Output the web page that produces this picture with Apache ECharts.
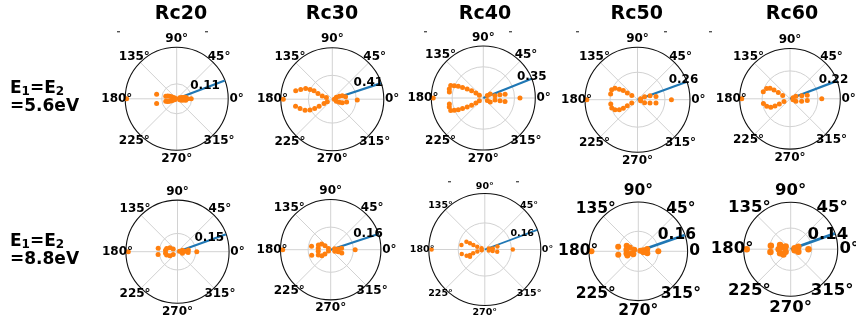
<!DOCTYPE html>
<html><head><meta charset="utf-8">
<script src="https://cdn.jsdelivr.net/npm/echarts@6/dist/echarts.min.js"></script>
<style>html,body{margin:0;padding:0;background:#fff}#c{width:856px;height:325px}</style>
</head><body><div id="c"></div>
<script>
// Column titles and row captions (energy values)
const titles = ['Rc20', 'Rc30', 'Rc40', 'Rc50', 'Rc60'];
const rowEnergy = ['5.6eV', '8.8eV'];

// Angular ticks
const angleTicks = [0, 45, 90, 135, 180, 225, 270, 315];
const angleTickLabels = ['0°', '45°', '90°', '135°', '180°', '225°', '270°', '315°'];

// Per panel: outer radius value, inner grid ring value, direction of the blue vector (deg)
const rMax = [0.11, 0.41, 0.35, 0.26, 0.22, 0.15, 0.16, 0.16, 0.16, 0.14];
const ringValue = [0.032, 0.19, 0.21, 0.136, 0.122, 0.053, 0.072, 0.076, 0.065, 0.063];
const vecAngle = [20.8, 18.2, 21.7, 19.9, 20.9, 19.7, 18.3, 20.5, 19.2, 19.6];

// Scatter points [radius, angle(deg)] for E=5.6eV
const e56_rc20 = [[0.107,180],[0.044,167],[0.044,193],[0.031,0],
  [0.024,167],[0.020,163],[0.016,160],[0.0115,158],[0.007,157],[0.0035,158],
  [0.024,193],[0.020,197],[0.016,200],[0.0115,202],[0.007,203],[0.0035,202],
  [0.0068,18],[0.011,16],[0.015,10],[0.0195,9],[0.0068,342],[0.011,344],[0.015,350],[0.0195,351],[0.0235,0]];
const e56_rc30 = [[0.39,180],
  [0.299,167],[0.263,163],[0.229,158],[0.193,156.5],[0.160,155.5],[0.123,158],[0.084,162],[0.049,164],
  [0.298,191],[0.267,196],[0.234,202],[0.198,206],[0.159,208],[0.119,208],[0.074,207],[0.045,208],
  [0.107,10],[0.116,349],[0.199,358],[0.036,27],[0.061,23],[0.084,19],[0.036,333],[0.061,337],[0.084,341],[0.016,0]];
const e56_rc40 = [[0.337,180],
  [0.237,165],[0.235,159],[0.212,157],[0.186,155],[0.157,153],[0.124,151],[0.093,148],[0.060,146],[0.032,146],[0.232,170],
  [0.237,195],[0.235,201],[0.212,203],[0.186,205],[0.157,207],[0.124,209],[0.093,212],[0.060,214],[0.032,214],[0.232,190],
  [0.149,10],[0.148,351],[0.247,0],[0.114,11],[0.114,351],[0.080,11],[0.080,350],[0.032,32],[0.032,328],[0.054,30],[0.054,330]];
const e56_rc50 = [[0.251,180],
  [0.137,159],[0.125,153],[0.104,150],[0.084,147],[0.060,147],[0.035,144],[0.136,168],
  [0.134,198],[0.122,204],[0.103,209],[0.082,211],[0.059,211],[0.033,210],[0.134,189],
  [0.093,10],[0.093,350],[0.168,0],[0.065,17],[0.064,345],[0.038,23],[0.038,337],[0.016,18],[0.016,342]];
const e56_rc60 = [[0.211,180],
  [0.121,165],[0.112,156],[0.099,152],[0.080,151],[0.058,152],[0.035,156],
  [0.118,190],[0.107,198],[0.092,204],[0.073,206],[0.052,206],[0.029,205],
  [0.077,12],[0.076,354],[0.139,0],[0.053,14],[0.052,348],[0.028,23],[0.028,337],[0.014,18],[0.014,342]];

// Scatter points [radius, angle(deg)] for E=8.8eV
const e88_rc20 = [[0.143,180],[0.057,170],[0.057,188],
  [0.033,163],[0.025,152],[0.015,147],[0.033,197],[0.025,208],[0.015,213],[0.035,173],[0.035,187],
  [0.032,9],[0.031,356],[0.056,0],[0.015,17],[0.015,343],[0.022,4],[0.006,14]];
const e88_rc30 = [[0.153,180],[0.062,170],[0.063,196],
  [0.042,159],[0.034,148],[0.022,145],[0.008,150],[0.043,203],[0.034,214],[0.023,217],[0.008,210],[0.040,173],[0.040,187],
  [0.037,343],[0.035,7],[0.078,0],[0.025,5],[0.025,345],[0.013,14],[0.014,340]];
const e88_rc40 = [[0.152,180],[0.068,169],[0.067,191],
  [0.057,157],[0.046,157],[0.035,159],[0.023,160],[0.010,159],
  [0.055,199],[0.045,200],[0.035,198],[0.022,195],[0.009,192],[0.047,206],
  [0.037,13],[0.036,350],[0.080,0],[0.023,7],[0.023,349],[0.012,14],[0.012,346]];
const e88_rc50 = [[0.152,180],[0.067,167],[0.066,190],
  [0.042,154],[0.030,156],[0.039,190],[0.038,201],[0.023,197],[0.014,159],[0.039,173],[0.019,211],
  [0.030,14],[0.030,348],[0.065,0],[0.017,11],[0.017,349],[0.007,14]];
const e88_rc60 = [[0.131,180],[0.060,170],[0.061,188],
  [0.034,159],[0.027,168],[0.034,201],[0.027,216],[0.017,153],[0.017,207],[0.036,180],
  [0.024,18],[0.024,342],[0.053,0],[0.012,14],[0.012,346]];

const panelPoints = [e56_rc20, e56_rc30, e56_rc40, e56_rc50, e56_rc60,
                     e88_rc20, e88_rc30, e88_rc40, e88_rc50, e88_rc60];

// Panel placement and styling (pixels)
const layout = [
  {cx:176.7, cy:98.8,  R:51.5, fs:12,   vfs:12,  dot:5,   lw:2.2, vo:[-5, 5.5]},
  {cx:332.3, cy:99.2,  R:51.5, fs:12,   vfs:12,  dot:5,   lw:2.2, vo:[2, 0]},
  {cx:483.3, cy:98.0,  R:52,   fs:12,   vfs:12,  dot:5,   lw:2.2, vo:[15, -1.5]},
  {cx:637.5, cy:99.7,  R:52.5, fs:12,   vfs:12,  dot:5,   lw:2.2, vo:[11.4, -1.8]},
  {cx:790.0, cy:98.8,  R:50.3, fs:12,   vfs:12,  dot:5,   lw:2.2, vo:[11.3, -1]},
  {cx:177.5, cy:251.7, R:51.6, fs:12,   vfs:12,  dot:5,   lw:2.2, vo:[-2, 4]},
  {cx:330.7, cy:249.7, R:50.2, fs:12,   vfs:12,  dot:5,   lw:2.2, vo:[4.4, 0]},
  {cx:484.8, cy:249.5, R:56,   fs:9.5,  vfs:9.5, dot:4.5, lw:1.8, vo:[-3.3, 3.4]},
  {cx:638.3, cy:251.3, R:49.3, fs:15.5, vfs:15.5,dot:6,   lw:2.7, vo:[11.2, 0]},
  {cx:790.7, cy:249.2, R:47,   fs:16.5, vfs:16.5,dot:6.5, lw:2.8, vo:[13.3, 1]}
];
const titleX = [181, 332, 485, 636.7, 792];
const rowCaptionY = [98, 251];
// small crop marks left along the panel edges
const cropMarks = [[117,31],[205,31],[424,31],[509,31],[576,31],[664,31],[709,31],[448,181],[516,181]];

const FONT = '"DejaVu Sans", sans-serif';
const ORANGE = '#ff7f0e', BLUE = '#1f77b4', GRID = '#d2d2d2';

const polar = [], angleAxis = [], radiusAxis = [], series = [];
layout.forEach((L, i) => {
  polar.push({ center: [L.cx, L.cy], radius: L.R });
  angleAxis.push({
    polarIndex: i, type: 'value', min: 0, max: 360, interval: 45,
    startAngle: 0, clockwise: false,
    axisLine: { show: true, lineStyle: { color: '#111', width: 1.1 } },
    axisTick: { show: false }, axisLabel: { show: false },
    splitLine: { show: true, lineStyle: { color: GRID, width: 1 } }
  });
  radiusAxis.push({
    polarIndex: i, type: 'value', min: 0, max: rMax[i],
    axisLine: { show: false }, axisLabel: { show: false },
    axisTick: { show: false, customValues: [ringValue[i]] },
    splitLine: { show: true, lineStyle: { color: GRID, width: 1 } }
  });
  // mean direction vector with its length as label
  series.push({
    type: 'line', coordinateSystem: 'polar', polarIndex: i, z: 2, clip: false,
    symbol: 'circle', symbolSize: 0, showSymbol: true, silent: true,
    itemStyle: { opacity: 1 },
    lineStyle: { color: BLUE, width: L.lw },
    data: [[0, vecAngle[i]], {
      value: [rMax[i], vecAngle[i]],
      label: { show: true, position: 'inside', align: 'right', verticalAlign: 'middle',
        offset: L.vo, formatter: rMax[i].toFixed(2),
        fontFamily: FONT, fontWeight: 'bold', fontSize: L.vfs, color: '#000' }
    }]
  });
  // distribution points
  series.push({
    type: 'scatter', coordinateSystem: 'polar', polarIndex: i, z: 3, silent: true,
    symbol: 'circle', symbolSize: L.dot, itemStyle: { color: ORANGE, opacity: 1 },
    data: panelPoints[i]
  });
  // angular tick labels, placed just outside the rim
  const pad = 0.7 * L.fs;
  const labelR = rMax[i] * (L.R + pad) / L.R;
  series.push({
    type: 'scatter', coordinateSystem: 'polar', polarIndex: i, z: 5, silent: true, clip: false,
    symbolSize: 0, itemStyle: { opacity: 1 },
    data: angleTicks.map((a, k) => ({ value: [labelR, a], name: angleTickLabels[k] })),
    label: { show: true, position: 'inside', align: 'center', verticalAlign: 'middle',
      formatter: p => p.name, fontFamily: FONT, fontWeight: 'bold', fontSize: L.fs,
      color: '#000', opacity: 1 }
  });
});

const graphic = titles.map((t, c) => ({
  type: 'text', x: titleX[c], y: 14,
  style: { text: t, align: 'center', verticalAlign: 'middle', fill: '#000',
    font: 'bold 19px ' + FONT }
}));
rowEnergy.forEach((e, r) => graphic.push({
  type: 'text', x: 10, y: rowCaptionY[r],
  style: {
    text: '{b|E}{s|1}{b|=E}{s|2}\n{b|=' + e + '}',
    align: 'left', verticalAlign: 'middle', fill: '#000',
    rich: {
      b: { fontFamily: FONT, fontWeight: 'bold', fontSize: 17, lineHeight: 18, verticalAlign: 'middle', fill: '#000' },
      s: { fontFamily: FONT, fontWeight: 'bold', fontSize: 12, lineHeight: 18, verticalAlign: 'bottom', fill: '#000' }
    }
  }
}));
cropMarks.forEach(([x, y]) => graphic.push({
  type: 'rect', shape: { x: x, y: y, width: 3, height: 1.4 }, style: { fill: '#555' }, silent: true
}));
// edge of the Rc60 / 8.8eV panel, which sits over the neighbour's 0° label
graphic.push({
  type: 'rect', z: 100, silent: true,
  shape: { x: 701, y: 238, width: 9, height: 22 }, style: { fill: '#fff' }
});

const chart = echarts.init(document.getElementById('c'), null, { renderer: 'canvas' });
chart.setOption({
  animation: false,
  backgroundColor: '#fff',
  textStyle: { fontFamily: FONT },
  polar, angleAxis, radiusAxis, series, graphic
});
</script></body></html>
